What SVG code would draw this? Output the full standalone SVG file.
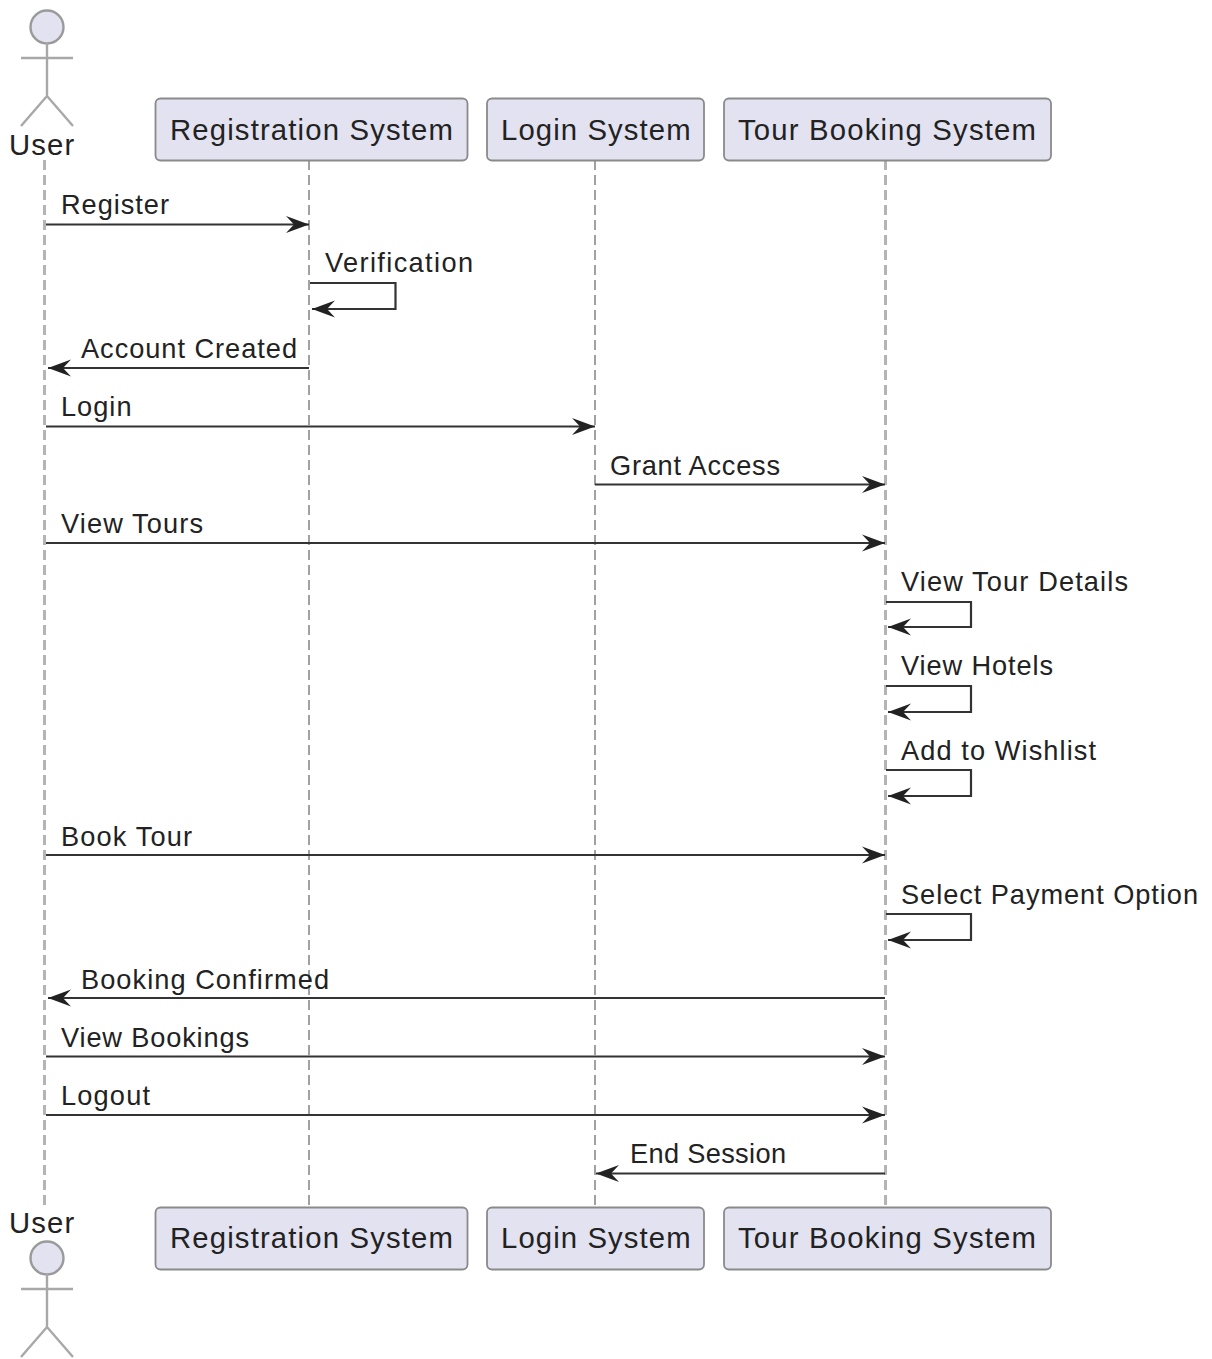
<svg xmlns="http://www.w3.org/2000/svg" width="1212" height="1359" viewBox="0 0 1212 1359">
<defs>
<style>
text{font-family:"Liberation Sans",Arial,sans-serif;font-size:27.2px;fill:#222;letter-spacing:1px}
text.p{font-size:29.3px;letter-spacing:1.1px}
.b{fill:#e2e2f0;stroke:#8a8a8a;stroke-width:1.8}
.a{fill:#e2e2f0;stroke:#9a9a9a;stroke-width:2.4}
.al{fill:none;stroke:#a8a8a8;stroke-width:2.4}
.l{stroke:#8a8a8a;stroke-width:1.6;stroke-dasharray:10 5;fill:none}
.lw{stroke:#b4b4b4;stroke-width:3;stroke-dasharray:10 5;fill:none}
.m{fill:none;stroke:#333;stroke-width:2.2}
</style>
<marker id="r" markerUnits="userSpaceOnUse" markerWidth="26" markerHeight="22" refX="24" refY="11" orient="auto"><path d="M1 2.500L24 11L1 19.500L9 11Z" fill="#222"/></marker>
</defs>
<g id="lifelines">
<path class="lw" d="M44.500 160V1208M885.500 160V1208"/>
<path class="l" d="M309 160V1208M595 160V1208"/>
</g>
<g id="user-top"><circle class="a" cx="47" cy="27" r="16.500"/><path class="al" d="M47 43V96M21 58H73M21 126L47 96L73 126"/><text class="p" x="9" y="155">User</text></g>
<g id="reg-top"><rect class="b" x="155.500" y="98.500" width="312" height="62" rx="5"/><text class="p" x="170" y="140" textLength="284">Registration System</text></g>
<g id="login-top"><rect class="b" x="487" y="98.500" width="217" height="62" rx="5"/><text class="p" x="501" y="140">Login System</text></g>
<g id="tour-top"><rect class="b" x="724" y="98.500" width="327" height="62" rx="5"/><text class="p" x="738" y="140" textLength="299">Tour Booking System</text></g>
<g id="user-bottom"><text class="p" x="9" y="1233">User</text><circle class="a" cx="47" cy="1258" r="16.500"/><path class="al" d="M47 1274V1327M21 1289H73M21 1357L47 1327L73 1357"/></g>
<g id="reg-bottom"><rect class="b" x="155.500" y="1207.500" width="312" height="62" rx="5"/><text class="p" x="170" y="1248" textLength="284">Registration System</text></g>
<g id="login-bottom"><rect class="b" x="487" y="1207.500" width="217" height="62" rx="5"/><text class="p" x="501" y="1248">Login System</text></g>
<g id="tour-bottom"><rect class="b" x="724" y="1207.500" width="327" height="62" rx="5"/><text class="p" x="738" y="1248" textLength="299">Tour Booking System</text></g>
<g id="connectors">
<path class="m" marker-end="url(#r)" d="M46 224.500H309"/>
<path class="m" marker-end="url(#r)" d="M310 283H395.500V309H312"/>
<path class="m" marker-end="url(#r)" d="M309 368H48"/>
<path class="m" marker-end="url(#r)" d="M46 426.500H595"/>
<path class="m" marker-end="url(#r)" d="M595 484.500H885"/>
<path class="m" marker-end="url(#r)" d="M46 543H885"/>
<path class="m" marker-end="url(#r)" d="M886 602H971V627H888"/>
<path class="m" marker-end="url(#r)" d="M886 686H971V712H888"/>
<path class="m" marker-end="url(#r)" d="M886 770H971V796H888"/>
<path class="m" marker-end="url(#r)" d="M46 855H885"/>
<path class="m" marker-end="url(#r)" d="M886 914H971V940H888"/>
<path class="m" marker-end="url(#r)" d="M885 998H48"/>
<path class="m" marker-end="url(#r)" d="M46 1056.500H885"/>
<path class="m" marker-end="url(#r)" d="M46 1115H885"/>
<path class="m" marker-end="url(#r)" d="M885 1173.500H596"/>
</g>
<g id="labels">
<text x="61" y="214" textLength="109">Register</text>
<text x="325" y="272" textLength="149">Verification</text>
<text x="81" y="358" textLength="217">Account Created</text>
<text x="61" y="416">Login</text>
<text x="610" y="475" textLength="171">Grant Access</text>
<text x="61" y="533" textLength="143">View Tours</text>
<text x="901" y="591" textLength="228">View Tour Details</text>
<text x="901" y="675" textLength="153">View Hotels</text>
<text x="901" y="760" textLength="196">Add to Wishlist</text>
<text x="61" y="846" textLength="132">Book Tour</text>
<text x="901" y="904" textLength="298">Select Payment Option</text>
<text x="81" y="989" textLength="249">Booking Confirmed</text>
<text x="61" y="1047" textLength="189">View Bookings</text>
<text x="61" y="1105" textLength="90">Logout</text>
<text x="630" y="1163" textLength="157">End Session</text>
</g>
</svg>
